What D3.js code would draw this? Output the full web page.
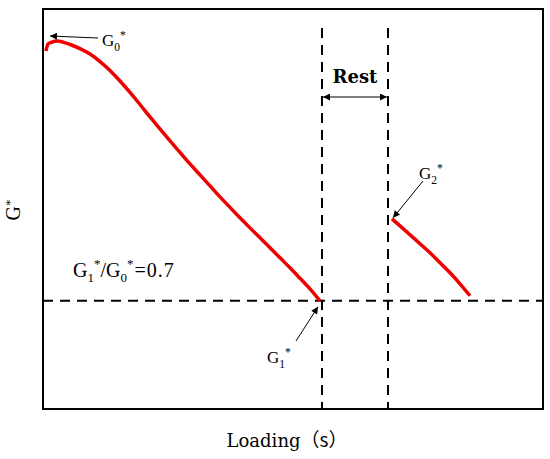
<!DOCTYPE html>
<html><head><meta charset="utf-8">
<script src="https://cdn.jsdelivr.net/npm/d3@7"></script>
<style>body{margin:0;background:#fff}svg{display:block}</style>
</head><body>
<script>
// Loading time (s) and normalised modulus G*
const loadTime1 = [3,5,9,14,20,27,37,47,57,67,77,87,97,107,117,127,137,147,157,167,177,187,197,207,217,227,237,247,257,267,277];
const gStar1 = [0.9885,0.9965,0.9988,1.000,0.9988,0.9960,0.9913,0.9850,0.9763,0.9660,0.9538,0.9406,0.9267,0.9123,0.8985,0.8846,0.8713,0.8581,0.8454,0.8327,0.8200,0.8079,0.7958,0.7842,0.7727,0.7612,0.7496,0.7381,0.7260,0.7138,0.7000];
const loadTime2 = [349,357,367,377,387,397,407,417,427];
const gStar2 = [0.7946,0.7865,0.7762,0.7658,0.7554,0.7439,0.7323,0.7196,0.7058];
const restStart = 279, restEnd = 345;
const ratioLevel = 0.7;

const W = 550, H = 459;
const svg = d3.select("body").append("svg").attr("width", W).attr("height", H);
const x = d3.scaleLinear().domain([0, 500]).range([43, 543]);
const y = d3.scaleLinear().domain([0.575, 1.037]).range([409, 9]);

const defs = svg.append("defs");
defs.append("marker").attr("id","ah").attr("viewBox","0 0 10 10").attr("refX",10).attr("refY",5)
  .attr("markerWidth",12).attr("markerHeight",7).attr("markerUnits","userSpaceOnUse").attr("orient","auto-start-reverse")
  .append("path").attr("d","M0,0L10,5L0,10Z").attr("fill","#000");

// dashed guides
const dash = "10,7";
svg.append("line").attr("x1", x(0)).attr("x2", x(500)).attr("y1", y(ratioLevel)).attr("y2", y(ratioLevel))
  .attr("stroke","#000").attr("stroke-width",2).attr("stroke-dasharray",dash);
[restStart, restEnd].forEach(t => {
  svg.append("line").attr("x1", x(t)).attr("x2", x(t)).attr("y1", 28).attr("y2", y(0.575))
    .attr("stroke","#000").attr("stroke-width",2).attr("stroke-dasharray",dash);
});

// frame
svg.append("rect").attr("x", x(0)).attr("y", y(1.037)).attr("width", x(500)-x(0)).attr("height", y(0.575)-y(1.037))
  .attr("fill","none").attr("stroke","#000").attr("stroke-width",2);

// curves
const line = d3.line().x(d => x(d[0])).y(d => y(d[1])).curve(d3.curveMonotoneX);
const s1 = loadTime1.map((t,i) => [t, gStar1[i]]);
const s2 = loadTime2.map((t,i) => [t, gStar2[i]]);
[s1, s2].forEach(s => {
  svg.append("path").datum(s).attr("d", line).attr("fill","none").attr("stroke","#f00000").attr("stroke-width",3.5);
});

// Rest arrow
svg.append("line").attr("x1", x(restStart)+1).attr("x2", x(restEnd)-1).attr("y1", 97).attr("y2", 97)
  .attr("stroke","#000").attr("stroke-width",1).attr("marker-start","url(#ah)").attr("marker-end","url(#ah)");
svg.append("text").attr("x", (x(restStart)+x(restEnd))/2).attr("y", 83).attr("text-anchor","middle")
  .attr("font-family","DejaVu Serif, serif").attr("font-weight","bold").attr("font-size",18).text("Rest");

const serif = "Liberation Serif, Times New Roman, serif";
function gLabel(xp, yp, size, sub) {
  const t = svg.append("text").attr("x", xp).attr("y", yp).attr("font-family", serif).attr("font-size", size);
  t.append("tspan").text("G");
  t.append("tspan").attr("font-size", size*0.68).attr("dy", size*0.28).text(sub);
  t.append("tspan").attr("font-size", size*0.68).attr("dy", -size*0.72).text("*");
  return t;
}
function arrow(x1,y1,x2,y2){
  svg.append("line").attr("x1",x1).attr("y1",y1).attr("x2",x2).attr("y2",y2)
    .attr("stroke","#000").attr("stroke-width",1).attr("marker-end","url(#ah)");
}
// G0*
gLabel(102, 46, 17, "0");
arrow(98, 38, x(loadTime1[0])+4, 36);
// G2*
gLabel(419, 179, 17, "2");
arrow(423, 181, x(loadTime2[0])+1, y(gStar2[0])-1);
// G1*
gLabel(267, 363, 17, "1");
arrow(296, 341, x(restStart)-4, y(ratioLevel)+6);

// ratio text
{
  const t = svg.append("text").attr("x", 73).attr("y", 277).attr("font-family", serif).attr("font-size", 20);
  t.append("tspan").text("G");
  t.append("tspan").attr("font-size", 13).attr("dy", 5).text("1");
  t.append("tspan").attr("font-size", 13).attr("dy", -14).text("*");
  t.append("tspan").attr("dy", 9).text("/G");
  t.append("tspan").attr("font-size", 13).attr("dy", 5).text("0");
  t.append("tspan").attr("font-size", 13).attr("dy", -14).text("*");
  t.append("tspan").attr("dy", 9).attr("dx", 1).attr("letter-spacing", 1).text("=0.7");
}

// axis titles
{
  const t = svg.append("text").attr("x", 287).attr("y", 447).attr("text-anchor","middle")
    .attr("font-family","DejaVu Serif, serif").attr("font-size",18);
  t.append("tspan").text("Loading");
  t.append("tspan").attr("font-family","Noto Sans CJK SC, sans-serif").attr("font-size",19).text("（s）");
}
{
  const t = svg.append("text").attr("transform","translate(20,210) rotate(-90)").attr("text-anchor","middle")
    .attr("font-family", serif).attr("font-size", 20);
  t.append("tspan").text("G");
  t.append("tspan").attr("font-size", 13).attr("dy", -6).text("*");
}
</script>
</body></html>
